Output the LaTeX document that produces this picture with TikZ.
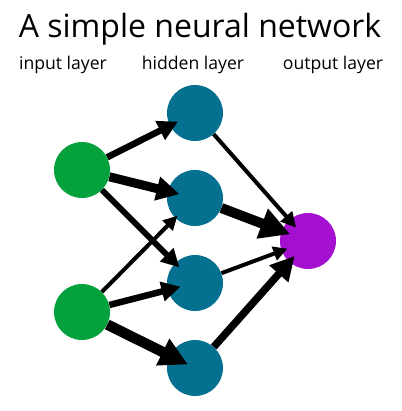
\documentclass[tikz,border=0pt]{standalone}
\usepackage{fontspec}
\setmainfont{Open Sans}
\usetikzlibrary{arrows.meta}
\definecolor{ingreen}{RGB}{4,161,60}
\definecolor{hidblue}{RGB}{5,112,143}
\definecolor{outpurple}{RGB}{165,15,208}
\tikzset{
  neuron/.style={circle, minimum size=56pt, inner sep=0pt, draw=none},
  inneuron/.style={neuron, fill=ingreen},
  hidneuron/.style={neuron, fill=hidblue},
  outneuron/.style={neuron, fill=outpurple},
  title/.style={anchor=base, font=\fontsize{32}{36}\selectfont},
  layerlabel/.style={anchor=base, font=\fontsize{17.6}{20}\selectfont},
  conn/.style 2 args={line width=#1pt, -{Triangle[length=#2pt, width=#2pt]}},
}
\begin{document}
\begin{tikzpicture}[x=1pt,y=-1pt]
\useasboundingbox (0,0) rectangle (401,411);
\node[title] (t) at (200,38) {A simple neural network};
\node[layerlabel] (l1) at (63,70) {input layer};
\node[layerlabel] (l2) at (193,70) {hidden layer};
\node[layerlabel] (l3) at (333,70) {output layer};

\node[inneuron] (i1) at (82,170) {};
\node[inneuron] (i2) at (82,312) {};
\node[hidneuron] (h1) at (195,113) {};
\node[hidneuron] (h2) at (195,198) {};
\node[hidneuron] (h3) at (195,283) {};
\node[hidneuron] (h4) at (195,368) {};
\node[outneuron] (o) at (308,241) {};

\draw[conn={6.5}{20}, shorten >=19pt] (i1) -- (h1.center);
\draw[conn={9}{23}, shorten >=16pt] (i1) -- (h2.center);
\draw[conn={6}{18}, shorten >=22pt] (i1) -- (h3.center);
\draw[conn={4}{14}, shorten >=25pt] (i2) -- (h2.center);
\draw[conn={6.5}{19}, shorten >=15pt] (i2) -- (h3.center);
\draw[conn={10.5}{28}, shorten >=8pt] (i2) -- (h4.center);
\draw[conn={4}{15}, shorten >=18pt] (h1) -- (o.center);
\draw[conn={10}{30}, shorten >=19pt] (h2) -- (o.center);
\draw[conn={4}{14}, shorten >=22pt] (h3) -- (o.center);
\draw[conn={7.5}{24}, shorten >=20pt] (h4) -- (o.center);
\end{tikzpicture}
\end{document}
